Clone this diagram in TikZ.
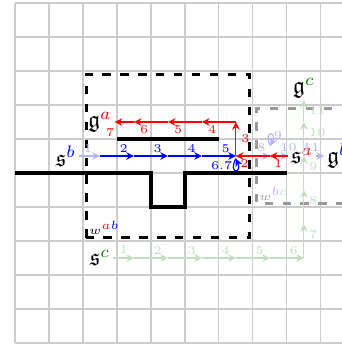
\documentclass[tikz,border=0pt]{standalone}
\usepackage{amssymb}
\usetikzlibrary{arrows.meta,calc}
\definecolor{sgreen}{rgb}{0,0.5,0}
\colorlet{fblue}{blue!30}
\colorlet{fgreen}{sgreen!25}
\colorlet{fgray}{black!40}
\begin{document}
\begin{tikzpicture}[x=0.5cm,y=0.5cm,
  arr/.style={-{Stealth[length=3.2pt,width=3.2pt]}, line width=0.5pt},
  lbl/.style={font=\tiny, inner sep=0.5pt},
  obj/.style={inner sep=1pt},
  wall/.style={line width=1.6pt},
  dbox/.style={very thick, dash pattern=on 3.5pt off 4pt}
]
\useasboundingbox (-0.44,-0.06) rectangle (9.62,10.09);
\draw[black!20, line width=0.5pt, step=0.5cm] (0,0) grid (9.62,10);

% regions
\draw[dbox, fgray] (9.7,4.1) -- (7.1,4.1) -- (7.1,6.9) -- (9.7,6.9);
\draw[dbox] (2.1,3.1) rectangle (6.9,7.9);

% walls
\draw[wall] (0,5) -- (4,5) -- (4,4) -- (5,4) -- (5,5) -- (8,5);
\draw[wall] (3,6) -- (6,6);

% objects
\node[obj] (sb) at (1.5,5.5) {$\mathfrak{s}^{\color{blue}b}$};
\node[obj] (ga) at (2.5,6.5) {$\mathfrak{g}^{\color{red}a}$};
\node[obj] (sa) at (8.45,5.5) {$\mathfrak{s}^{\color{red}a}$};
\node[obj] (gb) at (9.5,5.5) {$\mathfrak{g}^{\color{blue}b}$};
\node[obj] (gc) at (8.5,7.5) {$\mathfrak{g}^{\color{sgreen}c}$};
\node[obj] (sc) at (2.5,2.5) {$\mathfrak{s}^{\color{sgreen}c}$};
\node[lbl, anchor=south west, inner sep=1pt] (wab) at (2.1,3.1) {$w^{\color{red}a\color{blue}b}$};
\node[lbl, anchor=south west, inner sep=1pt] (wbc) at (7.1,4.1) {\color{fgray}$w^{\color{fblue}b\color{fgreen}c}$};

% path points
\coordinate (b1) at (2.5,5.5); \coordinate (b2) at (3.5,5.5);
\coordinate (b3) at (4.5,5.5); \coordinate (b4) at (5.5,5.5);
\coordinate (b5) at (6.5,5.5); \coordinate (b8) at (7.5,5.5);
\coordinate (l67) at (6.5,5.42); \coordinate (l9) at (7.52,5.8);
\coordinate (r3) at (6.5,6.5); \coordinate (r4) at (5.5,6.5);
\coordinate (r5) at (4.5,6.5); \coordinate (r6) at (3.5,6.5);
\coordinate (g1) at (3.5,2.5); \coordinate (g2) at (4.5,2.5);
\coordinate (g3) at (5.5,2.5); \coordinate (g4) at (6.5,2.5);
\coordinate (g5) at (7.5,2.5); \coordinate (g6) at (8.5,2.5);
\coordinate (g7) at (8.5,3.5); \coordinate (g8) at (8.5,4.5);
\coordinate (g9) at (8.5,5.5); \coordinate (g10) at (8.5,6.5);
\coordinate (g11) at (8.5,7.14);

% green path (faded)
\begin{scope}[fgreen]
\draw[arr] (sc) -- (g1);
\draw[arr] (g1) -- node[lbl,pos=.7,above=0.7pt]{2} (g2);
\draw[arr] (g2) -- node[lbl,pos=.7,above=0.7pt]{3} (g3);
\draw[arr] (g3) -- node[lbl,pos=.7,above=0.7pt]{4} (g4);
\draw[arr] (g4) -- node[lbl,pos=.7,above=0.7pt]{5} (g5);
\draw[arr] (g5) -- node[lbl,pos=.7,above=0.7pt]{6} (g6);
\draw[arr] (g6) -- node[lbl,pos=.7,right=1.5pt]{7} (g7);
\draw[arr] (g7) -- node[lbl,pos=.7,right=1.5pt]{8} (g8);
\draw[arr] (g8) -- node[lbl,pos=.7,right=1.5pt]{9} (g9);
\draw[arr] (g9) -- node[lbl,pos=.7,right=1.5pt]{10} (g10);
\draw[arr] (g10) -- node[lbl,pos=.55,right=1.5pt]{11} (g11);
\node[lbl] (gl1) at (3.2,2.75) {1};
\end{scope}

% blue path, faded parts
\begin{scope}[fblue]
\draw[arr] (sb) -- (b1);
\node[lbl] (bl1) at (2.15,5.72) {1};
\draw[arr] (b5) -- node[lbl,pos=.75,above=0.9pt]{8} (b8);
\draw[arr] (l9) .. controls +(-0.25,0.45) and +(0.2,0.45) .. (l9);
\node[lbl] (bl9) at (7.74,6.1) {9};
\draw[arr] (b8) -- (sa);
\node[lbl] (bl10) at (8.05,5.75) {10};
\draw[arr] (sa) -- (gb);
\node[lbl] (bl11) at (8.72,5.75) {11};
\end{scope}

% blue path, solid parts
\begin{scope}[blue]
\draw[arr] (b1) -- node[lbl,pos=.7,above=0.7pt]{2} (b2);
\draw[arr] (b2) -- node[lbl,pos=.7,above=0.7pt]{3} (b3);
\draw[arr] (b3) -- node[lbl,pos=.7,above=0.7pt]{4} (b4);
\draw[arr] (b4) -- node[lbl,pos=.7,above=0.7pt]{5} (b5);
\draw[arr] (l67) .. controls +(-0.25,-0.45) and +(0.2,-0.45) .. (l67);
\node[lbl] (bl67) at (6.08,5.22) {6.7};
\end{scope}

% red path
\begin{scope}[red]
\draw[arr] (sa) -- node[lbl,pos=.55,below=0.8pt]{1} (b8);
\draw[arr] (b8) -- node[lbl,pos=.75,below=0.8pt]{2} (b5);
\draw[arr] (b5) -- node[lbl,pos=.5,right=1.5pt]{3} (r3);
\draw[arr] (r3) -- node[lbl,pos=.7,below=0.8pt]{4} (r4);
\draw[arr] (r4) -- node[lbl,pos=.7,below=0.8pt]{5} (r5);
\draw[arr] (r5) -- node[lbl,pos=.7,below=0.8pt]{6} (r6);
\draw[arr] (r6) -- (ga);
\node[lbl] (rl7) at (2.8,6.2) {7};
\end{scope}
\end{tikzpicture}
\end{document}
